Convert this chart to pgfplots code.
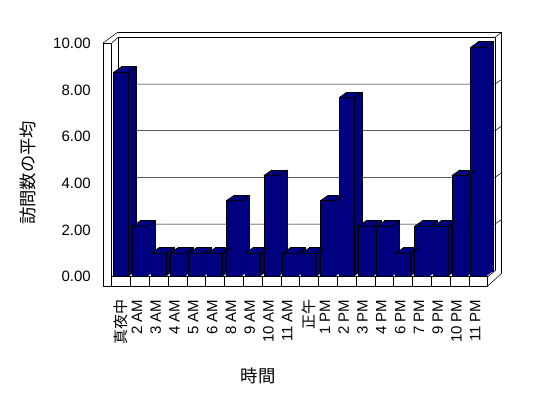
\documentclass[border=0pt]{standalone}
\usepackage{fontspec}
\setmainfont{Liberation Sans}
\newfontfamily\cjk{Noto Sans CJK JP}
\usepackage{pgfplots}
\usepackage{pgfplotstable}
\pgfplotsset{compat=1.18}
\usetikzlibrary{backgrounds}
\definecolor{barnavy}{RGB}{0,0,128}
\newcommand\lat[1]{#1\rule[-4.5pt]{0pt}{4.5pt}}
\pgfdeclareplotmark{bardiag}{%
  \pgfpathmoveto{\pgfpoint{-5.625pt}{0pt}}\pgfpathlineto{\pgfpoint{0.375pt}{4.2pt}}%
  \pgfpathmoveto{\pgfpoint{5.625pt}{0pt}}\pgfpathlineto{\pgfpoint{11.625pt}{4.2pt}}%
  \pgfusepathqstroke}
\pgfplotstableread{
x y
0 8.75
1 2.15
2 1.00
3 1.00
4 1.00
5 1.00
6 3.25
7 1.00
8 4.33
9 1.00
10 1.00
11 3.25
12 7.67
13 2.15
14 2.15
15 1.00
16 2.15
17 2.15
18 4.33
19 9.83
}\visits
\begin{document}
\begin{tikzpicture}
\begin{axis}[
  scale only axis, width=282pt, height=175pt,
  xmin=-0.5, xmax=19.5, ymin=0, ymax=10,
  clip=false,
  axis line style={draw=none},
  major tick length=0pt,
  xtick={0,...,19},
  xticklabels={{\cjk 真夜中},\lat{2 AM},\lat{3 AM},\lat{4 AM},\lat{5 AM},\lat{6 AM},\lat{8 AM},\lat{9 AM},\lat{10 AM},\lat{11 AM},{\cjk 正午},\lat{1 PM},\lat{2 PM},\lat{3 PM},\lat{4 PM},\lat{6 PM},\lat{7 PM},\lat{9 PM},\lat{10 PM},\lat{11 PM}},
  xticklabel style={font=\fontsize{11.25}{13.5}\selectfont, yshift=-17pt, rotate=90, anchor=east, inner sep=0pt},
  ytick={0,2,...,10},
  yticklabel style={font=\fontsize{11.25}{13.5}\selectfont, inner sep=0pt, xshift=-15.5pt, anchor=east,
    /pgf/number format/fixed, /pgf/number format/fixed zerofill, /pgf/number format/precision=2},
  /pgf/number format/assume math mode=true,
]
\coordinate (O) at (axis cs:-0.5,0);
\addplot[ybar, bar width=11.25pt, bar shift=0pt, fill=barnavy, draw=black, line width=0.75pt, xshift=6pt, yshift=4.2pt] table {\visits};
\pgfplotsinvokeforeach{7,6,5,4,3,2,1}{
  \addplot[ybar, bar width=11.25pt, bar shift=0pt, fill=barnavy, draw=none, xshift=#1*0.75pt, yshift=#1*0.525pt] table {\visits};
}
\addplot[only marks, mark=bardiag, mark options={draw=black, line width=0.75pt}] table {\visits};
\addplot[ybar, bar width=11.25pt, bar shift=0pt, fill=barnavy, draw=black, line width=0.75pt] table {\visits};
\end{axis}
\begin{scope}[on background layer, x=0.75pt, y=-0.75pt, shift={(O)}, shift={(-111.7,-276.7)}, line width=0.75pt]
  \path (0,0) rectangle (548,398);
  % back wall
  \draw (117.7,32.3) -- (501.7,32.3) -- (501.7,273.3);
  \draw (118.3,270.7) -- (118.3,37.3) -- (495,37.3) -- (495,270.7);
  \draw (495,37.3) -- (501.7,32.3);
  \foreach \v in {2,4,6,8} {
    \draw (118.3,{270.7-\v*23.333}) -- (495,{270.7-\v*23.333}) -- (501.7,{266-\v*23.333});
  }
  % left wall top
  \draw (103,43) -- (117.7,32.3);
  \draw (111.7,43) -- (118.3,37.3);
  % floor right side
  \draw (487.7,286) -- (501.7,273.3);
  \draw (487.7,276.7) -- (495,270.7);
  % left wall front + floor front
  \draw (103,43) -- (111.7,43) -- (111.7,276.7) -- (487.7,276.7) -- (487.7,286) -- (103,286) -- cycle;
  \foreach \k in {0,...,19} {
    \draw ({111.7+\k*18.8},276.7) -- ({111.7+\k*18.8},286);
  }
  \node[rotate=90, font=\cjk\fontsize{13}{15}\selectfont] at (28,173) {訪問数の平均};
  \node[font=\cjk\fontsize{13}{15}\selectfont] at (258,375.5) {時間};
\end{scope}
\end{tikzpicture}
\end{document}
